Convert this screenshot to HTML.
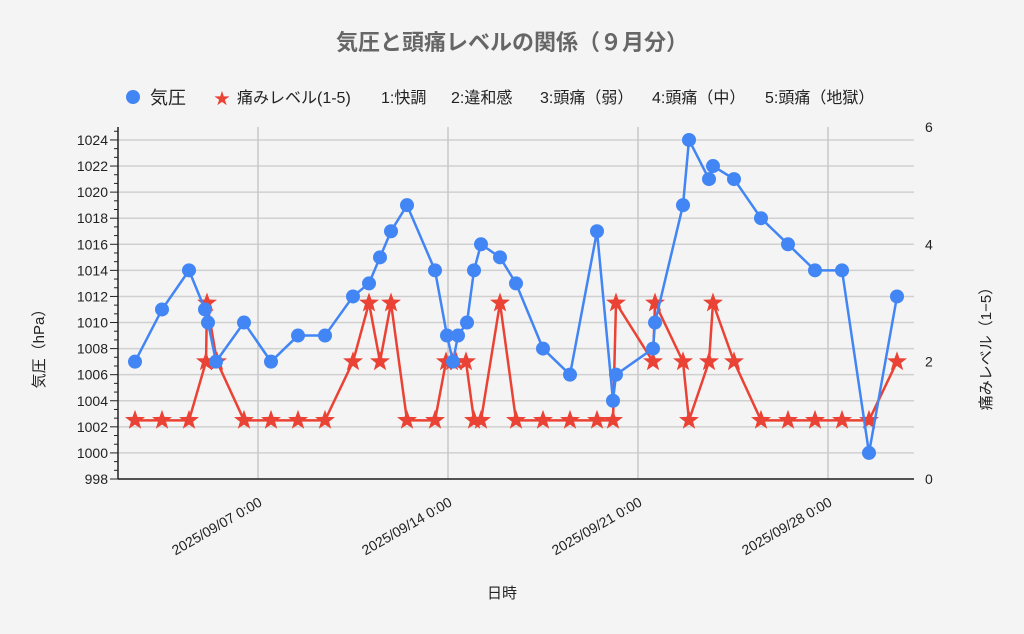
<!DOCTYPE html>
<html><head><meta charset="utf-8"><style>
body{margin:0;background:#f4f4f4;}
svg{display:block;font-family:"Liberation Sans","Noto Sans CJK JP",sans-serif;}
</style></head><body>
<svg id="s" width="1024" height="634" xmlns="http://www.w3.org/2000/svg">
<rect width="1024" height="634" fill="#f4f4f4"/>
<text x="512" y="50" text-anchor="middle" font-size="22" font-weight="bold" fill="#666">気圧と頭痛レベルの関係（９月分）</text>
<circle cx="133" cy="97" r="7" fill="#4285f4"/>
<text x="150" y="104" font-size="18" fill="#222">気圧</text>
<text x="222" y="104" font-size="16" fill="#ea4335" text-anchor="middle">★</text>
<g font-size="16" fill="#222">
<text x="237" y="103">痛みレベル(1-5)</text>
<text x="381" y="103">1:快調</text>
<text x="451" y="103">2:違和感</text>
<text x="540" y="103">3:頭痛（弱）</text>
<text x="652" y="103">4:頭痛（中）</text>
<text x="765" y="103">5:頭痛（地獄）</text>
</g>
<g id="g"></g>
<text x="502" y="598" text-anchor="middle" font-size="15" fill="#222">日時</text>
<text transform="translate(44,345) rotate(-90)" text-anchor="middle" font-size="15" fill="#222">気圧（hPa）</text>
<text transform="translate(991,345) rotate(-90)" text-anchor="middle" font-size="15" fill="#222">痛みレベル（1−5）</text>
</svg>
<script>
var g=document.getElementById('g'),h='';
var L=118,R=914,T=127,B=479;
function py(p){return B-(p-998)*13.04;}
function ly(l){return B-l*58.67;}
for(var p=998;p<=1024;p+=2){var y=py(p);h+='<line x1="'+L+'" x2="'+R+'" y1="'+y+'" y2="'+y+'" stroke="#d0d0d0" stroke-width="1.5"/>';
h+='<line x1="'+(L-8)+'" x2="'+L+'" y1="'+y+'" y2="'+y+'" stroke="#222"/>';
h+='<text x="'+(L-10)+'" y="'+(y+5)+'" text-anchor="end" font-size="14" fill="#222">'+p+'</text>';}
for(var k=1;k<60;k++){if(k%3==0)continue;var y=B-k*13.04*2/3;if(y<T)break;h+='<line x1="'+(L-4)+'" x2="'+L+'" y1="'+y+'" y2="'+y+'" stroke="#222"/>';}
[0,2,4,6].forEach(function(l){h+='<text x="'+(R+11)+'" y="'+(ly(l)+5)+'" font-size="14" fill="#222">'+l+'</text>';});
var xs=[258,448,638,828],ds=['07','14','21','28'];
xs.forEach(function(x,i){h+='<line x1="'+x+'" x2="'+x+'" y1="'+T+'" y2="'+B+'" stroke="#c8c8c8" stroke-width="1.5"/>';
h+='<text transform="translate('+(x+5)+',505) rotate(-30)" text-anchor="end" font-size="14" fill="#222">2025/09/'+ds[i]+' 0:00</text>';});
h+='<line x1="'+L+'" x2="'+L+'" y1="'+T+'" y2="'+B+'" stroke="#222" stroke-width="1.5"/>';
h+='<line x1="'+L+'" x2="'+R+'" y1="'+B+'" y2="'+B+'" stroke="#222" stroke-width="1.5"/>';
var P=[[135,1007],[162,1011],[189,1014],[205,1011],[208,1010],[216,1007],[244,1010],[271,1007],[298,1009],[325,1009],[353,1012],[369,1013],[380,1015],[391,1017],[407,1019],[435,1014],[447,1009],[453,1007],[458,1009],[467,1010],[474,1014],[481,1016],[500,1015],[516,1013],[543,1008],[570,1006],[597,1017],[613,1004],[616,1006],[653,1008],[655,1010],[683,1019],[689,1024],[709,1021],[713,1022],[734,1021],[761,1018],[788,1016],[815,1014],[842,1014],[869,1000],[897,1012]];
var Q=[[135,1],[162,1],[189,1],[206,2],[207,3],[217,2],[244,1],[271,1],[298,1],[325,1],[353,2],[369,3],[380,2],[391,3],[407,1],[435,1],[446,2],[452,2],[456,2],[466,2],[474,1],[481,1],[500,3],[516,1],[543,1],[570,1],[597,1],[613,1],[616,3],[653,2],[655,3],[683,2],[689,1],[709,2],[713,3],[734,2],[761,1],[788,1],[815,1],[842,1],[869,1],[897,2]];
h+='<polyline fill="none" stroke="#ea4335" stroke-width="2.5" points="'+Q.map(function(a){return a[0]+','+ly(a[1]);}).join(' ')+'"/>';
Q.forEach(function(a){var cx=a[0],cy=ly(a[1]),pts=[];for(var k=0;k<10;k++){var r=k%2?4.3:10.5,an=-Math.PI/2+k*Math.PI/5;pts.push((cx+r*Math.cos(an)).toFixed(1)+','+(cy+r*Math.sin(an)).toFixed(1));}
h+='<polygon points="'+pts.join(' ')+'" fill="#ea4335"/>';});
h+='<polyline fill="none" stroke="#4285f4" stroke-width="2.5" points="'+P.map(function(a){return a[0]+','+py(a[1]);}).join(' ')+'"/>';
P.forEach(function(a){h+='<circle cx="'+a[0]+'" cy="'+py(a[1])+'" r="7" fill="#4285f4"/>';});
g.innerHTML=h;
</script>
</body></html>
